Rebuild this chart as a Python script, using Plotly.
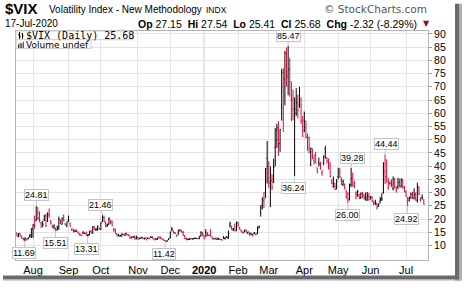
import plotly.graph_objects as go
import pandas as pd

# ---------------- data (daily $VIX, 18-Jul-2019 .. 17-Jul-2020) ----------------
holidays = ["2019-09-02", "2019-11-28", "2019-12-25", "2020-01-01", "2020-01-20",
            "2020-02-17", "2020-04-10", "2020-05-25", "2020-07-03"]

opens = [
    # Jul 2019
    14.6, 13.4, 14.6, 13.6, 12.9, 12.1, 12.4, 12.5, 13.4, 13.6,
    # Aug
    16.2, 17.5, 19.4, 22.4, 20.3, 18.6, 18.3, 19.6, 21.2, 19.6, 21.5, 19.3, 17.2, 16.9, 16.3, 16.0, 16.8, 18.4, 18.0, 21.3, 18.2, 17.5,
    # Sep
    19.6, 18.5, 15.9, 15.8, 15.5, 15.6, 15.0, 14.3, 13.9, 15.0, 14.7, 14.5, 13.8, 14.0, 15.6, 14.6, 16.9, 15.9, 15.8, 16.4,
    # Oct
    16.0, 19.0, 20.6, 18.8, 17.6, 18.0, 19.6, 18.9, 16.1, 16.3, 14.5, 13.9, 13.5, 13.6, 14.2, 13.8, 14.6, 13.9, 13.6, 12.9, 13.3, 13.1, 12.8,
    # Nov
    13.0, 12.6, 12.8, 13.0, 12.5, 12.8, 12.8, 12.6, 13.2, 13.3, 12.6, 12.4, 12.3, 13.0, 12.7, 12.6, 12.2, 11.9, 11.6, 12.2,
    # Dec
    12.9, 16.0, 15.4, 14.8, 13.9, 14.3, 15.9, 15.6, 14.9, 13.6, 12.6, 12.4, 12.3, 12.7, 12.5, 12.8, 12.7, 12.7, 12.5, 13.6, 14.9,
    # Jan 2020
    13.5, 15.0, 15.0, 13.9, 15.5, 13.3, 12.5, 12.8, 12.3, 12.5, 12.3, 12.2, 13.2, 12.6, 13.3, 12.6, 17.6, 17.3, 15.9, 17.0, 15.6,
    # Feb
    18.5, 16.9, 15.5, 15.0, 15.6, 16.0, 14.6, 14.7, 14.6, 14.2, 14.5, 14.3, 14.6, 16.6, 22.5, 24.2, 26.8, 30.0, 42.9,
    # Mar
    41.1, 34.0, 34.5, 34.0, 47.0, 53.5, 50.0, 48.5, 62.0, 70.0, 73.0, 78.0, 74.0, 77.0, 65.0, 65.0, 59.0, 60.0, 64.0, 63.0, 63.0, 55.0,
    # Apr
    57.4, 54.5, 51.0, 50.8, 40.5, 45.6, 42.3, 44.4, 39.4, 41.4, 40.5, 37.3, 41.1, 46.4, 43.1, 41.3, 40.5, 34.6, 32.3, 32.5, 32.1,
    # May
    36.0, 37.9, 34.7, 33.1, 33.1, 30.6, 29.5, 27.4, 32.9, 35.7, 33.4, 29.9, 28.8, 29.3, 28.0, 29.9, 28.9, 28.3, 27.2, 28.6,
    # Jun
    28.3, 28.3, 26.5, 26.1, 25.6, 24.8, 26.8, 27.6, 30.0, 38.0, 42.0, 31.9, 33.4, 33.9, 31.5, 35.0, 31.0, 32.2, 34.1, 32.4, 35.0, 31.9,
    # Jul
    30.2, 26.9, 27.1, 28.0, 29.3, 27.9, 29.5, 27.0, 31.8, 27.4, 28.2, 27.15,
]

highs = [
    14.9, 14.6, 14.7, 13.7, 12.9, 13.1, 12.6, 13.0, 14.3, 16.5,
    18.0, 21.3, 24.81, 24.5, 22.9, 18.8, 19.3, 21.6, 22.0, 22.5, 24.0, 19.6, 17.8, 18.0, 16.8, 17.5, 20.9, 19.8, 20.6, 21.7, 18.3, 19.0,
    21.3, 18.6, 16.5, 16.2, 16.0, 16.1, 15.3, 14.7, 14.1, 15.4, 15.0, 15.3, 14.3, 15.5, 15.7, 17.3, 17.2, 16.6, 17.6, 16.7,
    18.7, 21.46, 21.3, 19.1, 18.3, 20.6, 19.7, 19.4, 16.6, 16.3, 14.6, 14.3, 14.0, 14.6, 14.3, 14.7, 14.8, 14.3, 13.8, 13.3, 13.6, 13.8, 13.7,
    13.1, 12.9, 13.2, 13.2, 12.9, 13.0, 12.9, 13.0, 13.5, 13.4, 12.7, 12.7, 12.9, 13.6, 13.4, 12.7, 12.3, 12.0, 11.9, 12.7,
    15.3, 17.0, 15.6, 15.1, 14.0, 15.9, 16.3, 15.8, 15.5, 14.0, 13.0, 12.6, 12.8, 12.8, 12.8, 12.9, 12.9, 12.8, 13.5, 15.4, 15.0,
    13.7, 16.2, 15.0, 14.2, 16.2, 13.3, 12.7, 12.9, 13.0, 12.9, 12.4, 12.4, 13.5, 13.0, 13.6, 15.6, 19.0, 17.4, 16.6, 18.3, 19.0,
    18.9, 17.0, 15.9, 15.2, 15.9, 16.1, 15.2, 14.9, 14.8, 14.4, 15.1, 14.5, 17.2, 17.6, 25.2, 28.2, 30.2, 39.2, 49.5,
    41.9, 39.9, 36.9, 42.8, 54.4, 56.0, 57.0, 54.0, 76.8, 77.0, 83.6, 84.8, 85.47, 81.0, 72.0, 69.0, 66.0, 69.5, 67.0, 70.0, 66.0, 59.0,
    60.6, 57.2, 52.3, 51.2, 47.0, 46.7, 44.4, 45.4, 39.4, 43.2, 41.7, 38.4, 44.0, 47.7, 43.4, 42.9, 41.5, 35.0, 36.1, 33.7, 35.1,
    39.4, 39.3, 35.7, 34.9, 33.4, 30.9, 30.1, 33.4, 39.28, 37.6, 34.5, 30.5, 31.0, 29.5, 30.0, 30.3, 29.6, 30.0, 30.2, 29.9,
    28.7, 28.6, 26.9, 27.3, 26.2, 25.9, 28.3, 29.7, 41.5, 44.44, 42.6, 35.6, 34.5, 35.0, 36.1, 35.5, 32.4, 35.6, 35.3, 35.4, 35.0, 32.5,
    30.8, 28.4, 28.5, 30.0, 30.3, 31.6, 30.0, 33.7, 32.4, 28.2, 29.3, 27.54,
]

lows = [
    13.5, 13.2, 13.5, 12.6, 12.0, 11.69, 11.9, 12.3, 12.9, 12.8,
    12.9, 16.3, 19.2, 19.6, 18.7, 16.7, 16.9, 19.2, 16.9, 18.9, 20.4, 17.9, 16.7, 16.1, 15.51, 15.6, 15.9, 18.1, 17.9, 19.1, 17.6, 16.9,
    18.9, 17.2, 15.5, 15.0, 15.1, 15.1, 14.5, 13.6, 13.6, 14.3, 14.3, 13.8, 13.31, 13.9, 14.6, 14.5, 15.9, 15.5, 15.6, 16.1,
    15.9, 18.9, 18.7, 16.9, 17.0, 17.8, 18.1, 17.3, 15.2, 14.5, 13.5, 13.5, 13.3, 13.4, 13.9, 13.6, 14.0, 13.6, 12.6, 12.7, 12.9, 12.3, 12.3,
    12.2, 12.5, 12.6, 12.5, 12.3, 12.1, 12.4, 12.3, 12.8, 12.6, 12.0, 12.3, 12.1, 12.7, 12.5, 12.2, 11.8, 11.42, 11.5, 12.0,
    12.8, 15.3, 14.5, 14.4, 13.3, 14.0, 15.1, 14.9, 13.6, 12.3, 12.0, 12.0, 12.1, 12.3, 12.2, 12.5, 12.4, 12.4, 12.4, 13.4, 13.5,
    12.4, 13.1, 13.5, 13.5, 13.4, 12.3, 12.3, 12.3, 12.3, 12.1, 12.0, 11.9, 12.5, 12.2, 12.9, 12.5, 16.7, 15.9, 15.4, 15.4, 15.4,
    16.9, 15.9, 14.9, 14.4, 14.9, 15.0, 14.4, 13.7, 13.9, 13.4, 14.2, 13.8, 14.3, 16.5, 20.9, 23.6, 24.2, 27.9, 33.4,
    31.7, 24.5, 30.9, 33.6, 39.9, 46.9, 43.9, 45.4, 57.2, 53.0, 63.0, 70.0, 66.8, 66.2, 57.0, 57.3, 36.24, 59.0, 58.0, 62.0, 56.0, 51.0,
    52.8, 50.4, 45.8, 44.9, 40.0, 42.6, 40.6, 41.1, 37.3, 39.9, 38.6, 36.4, 40.4, 42.8, 41.0, 38.7, 35.7, 33.2, 31.9, 31.0, 31.2,
    35.0, 35.5, 32.9, 32.5, 31.2, 27.7, 26.00, 27.0, 32.1, 32.2, 31.7, 27.4, 28.4, 27.5, 27.6, 28.0, 27.3, 26.9, 26.9, 26.9,
    27.4, 26.4, 25.2, 25.4, 23.6, 24.7, 25.9, 26.8, 29.6, 33.2, 33.7, 31.1, 32.6, 32.1, 30.8, 31.6, 30.0, 31.3, 32.0, 31.9, 31.5, 30.1,
    28.4, 24.92, 26.6, 27.6, 27.6, 27.4, 26.9, 26.2, 28.9, 26.6, 27.4, 25.41,
]

closes = [
    13.53, 14.45, 13.53, 12.61, 12.07, 12.74, 12.16, 12.83, 13.94, 16.12,
    17.87, 17.61, 24.59, 20.17, 19.49, 16.91, 17.97, 21.09, 17.52, 22.10, 21.18, 18.47, 16.88, 17.50, 15.80, 16.68, 19.87, 19.32, 20.31, 19.35, 17.88, 18.98,
    19.66, 17.33, 16.27, 15.00, 15.27, 15.20, 14.61, 14.22, 13.74, 14.67, 14.44, 13.95, 14.05, 15.32, 14.91, 17.05, 15.96, 16.07, 17.22, 16.24,
    18.56, 20.56, 19.12, 17.04, 17.86, 20.28, 18.64, 17.57, 15.58, 14.57, 13.54, 13.68, 13.79, 14.25, 14.00, 14.46, 14.01, 13.71, 12.65, 13.11, 13.20, 12.33, 13.22,
    12.30, 12.83, 13.10, 12.62, 12.73, 12.07, 12.69, 12.68, 13.00, 12.69, 12.05, 12.46, 12.86, 12.78, 12.60, 12.34, 11.87, 11.54, 11.75, 12.62,
    14.91, 15.96, 14.80, 14.52, 13.62, 15.86, 15.68, 14.99, 13.94, 12.63, 12.14, 12.29, 12.58, 12.50, 12.51, 12.61, 12.67, 12.65, 13.43, 14.82, 13.78,
    12.47, 14.02, 13.85, 13.79, 13.45, 12.54, 12.56, 12.32, 12.39, 12.42, 12.32, 12.10, 12.85, 12.91, 12.98, 14.56, 18.23, 16.28, 16.39, 15.49, 18.84,
    17.97, 16.05, 15.15, 14.96, 15.47, 15.04, 15.18, 13.74, 14.15, 13.68, 14.83, 14.38, 15.56, 17.08, 25.03, 27.85, 27.56, 39.16, 40.11,
    33.42, 36.82, 31.99, 39.62, 41.94, 54.46, 47.30, 53.90, 75.47, 57.83, 82.69, 75.91, 76.45, 72.00, 66.04, 61.59, 61.67, 63.95, 61.00, 65.54, 57.08, 53.54,
    57.06, 50.91, 46.80, 45.24, 46.70, 43.35, 41.67, 41.17, 37.76, 40.84, 40.11, 38.15, 43.83, 45.41, 41.98, 41.38, 35.93, 33.29, 33.57, 31.23, 34.15,
    37.19, 35.97, 33.61, 34.12, 31.44, 27.98, 27.57, 33.04, 35.28, 32.61, 31.89, 29.30, 30.53, 27.99, 29.53, 28.16, 27.91, 28.01, 28.59, 27.51,
    28.23, 26.84, 25.66, 25.81, 24.52, 25.81, 27.57, 27.57, 40.79, 36.09, 34.40, 33.67, 33.47, 32.94, 35.12, 31.77, 31.37, 33.84, 32.22, 34.73, 31.78, 30.43,
    28.62, 27.68, 27.94, 29.43, 28.08, 29.26, 27.29, 32.19, 29.52, 27.76, 28.00, 25.68,
]

y_ticks = [10, 15, 20, 25, 30, 35, 40, 45, 50, 55, 60, 65, 70, 75, 80, 85, 90]

# labelled extremes: (trading-day index, value, box offset x px, box offset y px)
callouts = [
    (12, 24.81, 0, -11), (5, 11.69, -1, 12), (24, 15.51, 0, 12), (44, 13.31, -1, 12),
    (53, 21.46, -2, -10), (92, 11.42, -1, 12), (168, 85.47, 0, -10), (172, 36.24, -1, 12),
    (207, 39.28, 1, -10), (205, 26.00, 0, 12), (228, 44.44, 1, -10), (242, 24.92, -1, 13),
]

# ---------------- build ----------------
dates = [d for d in pd.bdate_range("2019-07-18", "2020-07-17")
         if d.strftime("%Y-%m-%d") not in holidays]
n = len(closes)
assert len(dates) == n == len(opens) == len(highs) == len(lows), (len(dates), n, len(opens), len(highs), len(lows))

UP = "#000000"
DOWN = "#d0103a"

up_i, dn_i = [], []
for i in range(n):
    ref = closes[i - 1] if i > 0 else opens[i]
    (up_i if closes[i] >= ref else dn_i).append(i)

fig = go.Figure()
for idx, col in ((up_i, UP), (dn_i, DOWN)):
    fig.add_trace(go.Ohlc(
        x=idx,
        open=[opens[i] for i in idx], high=[highs[i] for i in idx],
        low=[lows[i] for i in idx], close=[closes[i] for i in idx],
        increasing=dict(line=dict(color=col, width=1)),
        decreasing=dict(line=dict(color=col, width=1)),
        tickwidth=0.5, hoverinfo="skip", showlegend=False,
    ))

# month ticks
tickvals, ticktext = [], []
for i in range(1, n):
    if dates[i].month != dates[i - 1].month:
        tickvals.append(i)
        ticktext.append("<b>2020</b>" if dates[i].month == 1 else dates[i].strftime("%b"))
jan_idx = tickvals[ticktext.index("<b>2020</b>")]

W, H = 464, 288
L, R, T, B = 16, 428, 31, 267
def px(x):
    return (x - L) / (R - L)
def py(y):
    return (B - y) / (B - T)

GRID = "#e3e3e3"
FRAME = "#b4b4b4"

annotations = []
for i, v, ax, ay in callouts:
    annotations.append(dict(
        x=i, y=v, xref="x", yref="y", text=f"{v:.2f}", showarrow=True,
        arrowhead=0, arrowwidth=1, arrowcolor="#c4c4c4", ax=ax, ay=ay,
        bgcolor="white", bordercolor="#c4c4c4", borderwidth=1, borderpad=0,
        font=dict(family="Liberation Sans, Arial", size=9, color="#000"),
        standoff=0,
    ))

def txt(x, y, s, size, xanchor="left", color="#000", family="Liberation Sans, Arial"):
    annotations.append(dict(
        x=px(x), y=py(y), xref="paper", yref="paper", text=s, showarrow=False,
        xanchor=xanchor, yanchor="middle",
        font=dict(family=family, size=size, color=color),
    ))

txt(3, 8, "<b>$VIX</b>", 15)
txt(47, 9, "Volatility Index - New Methodology", 10)
txt(204, 9, "INDX", 8.5)
txt(429, 8, "© StockCharts.com", 10.5, xanchor="right", color="#555", family="DejaVu Sans")
txt(3, 23.5, "17-Jul-2020", 10)
txt(419, 23.5, "<b>Op</b> 27.15  <b>Hi</b> 27.54  <b>Lo</b> 25.41  <b>Cl</b> 25.68  <b>Chg</b> -2.32 (-8.29%)",
    10.5, xanchor="right")
txt(421, 23, "▼", 8, color="#8b0d2a", family="DejaVu Sans")
txt(24, 35.5, "$VIX (Daily) 25.68", 10, family="DejaVu Sans Mono")
txt(24, 45, "Volume undef", 9, family="DejaVu Sans")

shapes = []
def rect(x0, y0, x1, y1, fill, line=None, layer="above"):
    shapes.append(dict(type="rect", xref="paper", yref="paper",
                       x0=px(x0), x1=px(x1), y0=py(y1), y1=py(y0),
                       fillcolor=fill, line=dict(width=1 if line else 0, color=line or fill),
                       layer=layer))
def seg(x0, y0, x1, y1, color, w=1):
    shapes.append(dict(type="line", xref="paper", yref="paper",
                       x0=px(x0), x1=px(x1), y0=py(y0), y1=py(y1),
                       line=dict(color=color, width=w), layer="above"))

# legend boxes
rect(16, 31, 133, 40, "white", "#cfcfcf")
rect(16, 40, 91, 49, "white", "#cfcfcf")
# OHLC icon
seg(19.5, 32, 19.5, 39, "#000"); seg(18, 35, 19.5, 35, "#000"); seg(19.5, 37, 21, 37, "#000")
seg(22.5, 33, 22.5, 39, "#000"); seg(21.5, 34, 22.5, 34, "#000"); seg(22.5, 36, 23.5, 36, "#000")
# volume icon
for bx, top in ((18, 45), (19.6, 43), (21.2, 44), (22.8, 42)):
    rect(bx, top, bx + 1, 48.5, "#333")
# Jan 2020 darker gridline
shapes.append(dict(type="line", xref="x", yref="paper", x0=jan_idx, x1=jan_idx, y0=0, y1=1,
                   line=dict(color="#b9b9b9", width=1), layer="below"))
# drop shadow of the chart image
rect(455, 3, 459, 288, "#6a6a6a")
rect(459, 3, 462, 288, "#b0b0b0")
rect(3, 283, 459, 287, "#6a6a6a")
rect(3, 287, 462, 288, "#b0b0b0")

fig.update_layout(
    width=W, height=H,
    margin=dict(l=L, r=W - R, t=T, b=H - B, pad=0),
    paper_bgcolor="white", plot_bgcolor="white",
    showlegend=False,
    annotations=annotations, shapes=shapes,
    xaxis=dict(
        range=[-0.53, n + 1.6], rangeslider=dict(visible=False),
        tickvals=tickvals, ticktext=ticktext, showgrid=True, gridcolor=GRID, gridwidth=1,
        showline=True, linecolor=FRAME, linewidth=1, mirror=True, ticks="",
        tickfont=dict(family="Liberation Sans, Arial", size=11, color="#000"),
        zeroline=False, fixedrange=True,
    ),
    yaxis=dict(
        range=[4.5, 91.1], side="right", tickvals=y_ticks, ticktext=[str(t) for t in y_ticks],
        showgrid=True, gridcolor=GRID, gridwidth=1,
        showline=True, linecolor=FRAME, linewidth=1, mirror=True,
        ticks="outside", ticklen=3, tickcolor="#999",
        tickfont=dict(family="Liberation Sans, Arial", size=10.5, color="#000"),
        zeroline=False, fixedrange=True,
    ),
)

fig.write_html("out.html", config=dict(displayModeBar=False))
